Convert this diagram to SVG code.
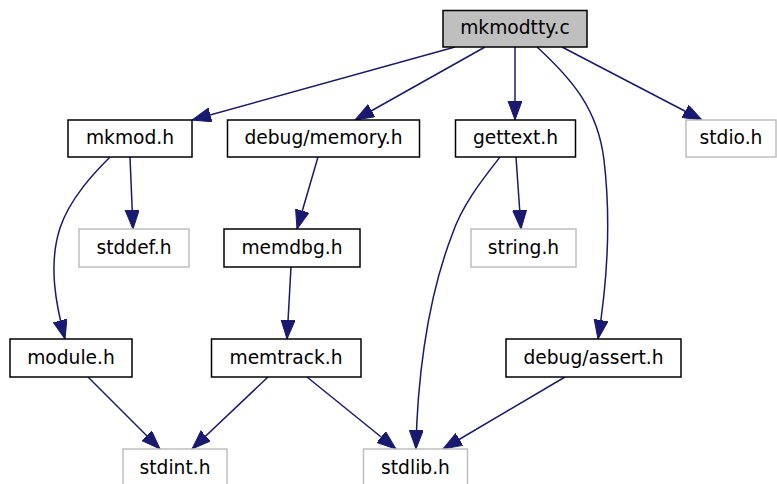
<svg xmlns="http://www.w3.org/2000/svg" width="777" height="484" viewBox="0 0 777 484">
<style>
  .n rect { fill: #ffffff; stroke: #000000; stroke-width: 1.5; }
  .n.root rect { fill: #bfbfbf; }
  .n.ext rect { stroke: #bfbfbf; }
  .n text { font-family: "DejaVu Sans", sans-serif; font-size: 18.67px; text-anchor: middle; fill: #000000; }
  .e path { fill: none; stroke: #191970; stroke-width: 1.5; marker-end: url(#ah); }
</style>
<defs>
  <marker id="ah" markerUnits="userSpaceOnUse" markerWidth="20" markerHeight="15" refX="19" refY="7" orient="auto">
    <path d="M0,0 L19,7 L0,14 Z" fill="#191970" stroke="#191970" stroke-width="1"/>
  </marker>
</defs>
<rect width="777" height="484" fill="#ffffff"/>
<g id="edges" class="e">
  <path d="M455,47 L192,120"/>
  <path d="M485,47 L355,120"/>
  <path d="M515,47 L515,120"/>
  <path d="M537,47 C573,80 598,110 604,160 C612,228 606,290 598,339"/>
  <path d="M562,47 L702,120"/>
  <path d="M130,157 L133,229"/>
  <path d="M110,157 C95,172 70,198 60,228 C48,265 56,305 65,339"/>
  <path d="M318,157 L297,229"/>
  <path d="M291,267 L287,339"/>
  <path d="M268,377 L192,449"/>
  <path d="M88,377 L160,449"/>
  <path d="M307,377 L396,449"/>
  <path d="M500,157 C482,180 462,205 452,235 C425,305 417,390 416,449"/>
  <path d="M516,157 L521,229"/>
  <path d="M565,377 L443,449"/>
</g>
<g id="mkmodtty_c" class="n root"><rect x="443" y="10.5" width="144" height="36.5"/><text x="515" y="34">mkmodtty.c</text></g>
<g id="mkmod_h" class="n"><rect x="68" y="120" width="124" height="37"/><text x="130" y="144">mkmod.h</text></g>
<g id="debug_memory_h" class="n"><rect x="227.5" y="120" width="192" height="37"/><text x="323.5" y="144">debug/memory.h</text></g>
<g id="gettext_h" class="n"><rect x="455.5" y="120" width="120" height="37"/><text x="515.5" y="144">gettext.h</text></g>
<g id="stdio_h" class="n ext"><rect x="686" y="120" width="90" height="37"/><text x="731" y="144">stdio.h</text></g>
<g id="stddef_h" class="n ext"><rect x="79" y="229" width="110" height="38"/><text x="134" y="254">stddef.h</text></g>
<g id="memdbg_h" class="n"><rect x="224" y="229" width="136" height="38"/><text x="292" y="254">memdbg.h</text></g>
<g id="string_h" class="n ext"><rect x="471" y="229" width="105" height="38"/><text x="523.5" y="254">string.h</text></g>
<g id="module_h" class="n"><rect x="10" y="339" width="122" height="38"/><text x="71" y="364">module.h</text></g>
<g id="memtrack_h" class="n"><rect x="211.5" y="339" width="149.5" height="38"/><text x="286" y="364">memtrack.h</text></g>
<g id="debug_assert_h" class="n"><rect x="506" y="339" width="175" height="38"/><text x="593.5" y="364">debug/assert.h</text></g>
<g id="stdint_h" class="n ext"><rect x="123" y="449" width="104" height="38"/><text x="175" y="474">stdint.h</text></g>
<g id="stdlib_h" class="n ext"><rect x="363.5" y="449" width="104" height="38"/><text x="415.5" y="474">stdlib.h</text></g>
</svg>
